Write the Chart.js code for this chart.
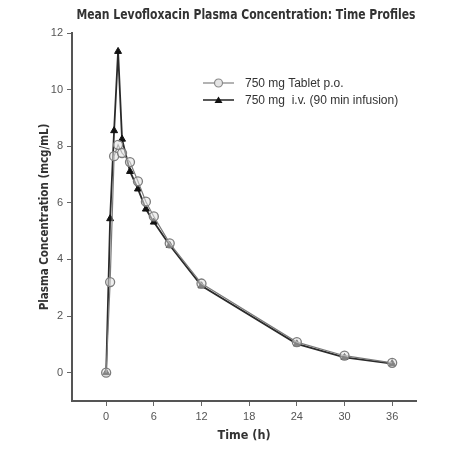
<!DOCTYPE html>
<html>
<head>
<meta charset="utf-8">
<script src="https://cdn.jsdelivr.net/npm/chart.js@4/dist/chart.umd.min.js"></script>
<style>
  html, body { margin: 0; padding: 0; background: #fff; }
  #wrap { position: relative; width: 472px; height: 472px; }
  #title { position: absolute; left: 46px; width: 400px; top: 6px; text-align: center;
           font: bold 14px 'DejaVu Sans Condensed', 'Liberation Sans Narrow', Arial, sans-serif; color: #333;
           transform: scaleX(0.86); transform-origin: 200px 0; }
  #legend { position: absolute; left: 203px; top: 74px; font: 12px 'Liberation Sans', Arial, sans-serif; color: #333; }
  #legend div { height: 17px; display: flex; align-items: center; }
  #legend svg { margin-right: 11px; }
</style>
</head>
<body>
<div id="wrap">
  <canvas id="chart-levo" width="472" height="472"></canvas>
  <div id="title">Mean Levofloxacin Plasma Concentration: Time Profiles</div>
  <div id="legend">
    <div><svg width="31" height="12"><line x1="0" y1="6" x2="31" y2="6" stroke="#9a9a9a" stroke-width="1.5"/><circle cx="15.5" cy="6" r="4" fill="#e4e4e4" stroke="#8a8a8a" stroke-width="1.2"/></svg>750 mg Tablet p.o.</div>
    <div><svg width="31" height="12"><line x1="0" y1="6" x2="31" y2="6" stroke="#222" stroke-width="1.5"/><polygon points="15.5,2.5 19.5,9 11.5,9" fill="#111"/></svg>750 mg&nbsp; i.v. (90 min infusion)</div>
  </div>
</div>
<script>
const timesTablet = [0, 0.5, 1, 1.5, 2, 3, 4, 5, 6, 8, 12, 24, 30, 36];
const concTablet = [0, 3.2, 7.65, 8.05, 7.76, 7.44, 6.76, 6.04, 5.52, 4.57, 3.15, 1.08, 0.6, 0.35];
const timesIV = [0, 0.5, 1, 1.5, 2, 3, 4, 5, 6, 8, 12, 24, 30, 36];
const concIV = [0, 5.44, 8.55, 11.35, 8.25, 7.11, 6.49, 5.78, 5.32, 4.5, 3.07, 1.02, 0.54, 0.32];
const xTicks = [0, 6, 12, 18, 24, 30, 36];
const yTicks = [0, 2, 4, 6, 8, 10, 12];

const AXIS_FONT = "'Liberation Sans', Arial, sans-serif";
const NARROW_FONT = "'DejaVu Sans Condensed', 'Liberation Sans Narrow', Arial, sans-serif";

function toPoints(xs, ys) {
  return xs.map((x, i) => ({ x, y: ys[i] }));
}

new Chart(document.getElementById('chart-levo').getContext('2d'), {
  type: 'line',
  data: {
    datasets: [
      {
        label: '750 mg i.v. (90 min infusion)', data: toPoints(timesIV, concIV),
        borderColor: '#2a2a2a', borderWidth: 1.8,
        pointStyle: 'triangle', pointRadius: 4, pointBackgroundColor: '#111',
        pointBorderColor: '#111', pointBorderWidth: 1, tension: 0, order: 2
      },
      {
        label: '750 mg Tablet p.o.', data: toPoints(timesTablet, concTablet),
        borderColor: '#7a7a7a', borderWidth: 1.2,
        pointStyle: 'circle', pointRadius: 4.5, pointBackgroundColor: 'rgba(225,225,225,0.55)',
        pointBorderColor: '#7c7c7c', pointBorderWidth: 1.3, tension: 0, order: 1
      }
    ]
  },
  options: {
    responsive: false,
    animation: false,
    layout: { padding: { left: 0, right: 56, top: 33, bottom: 0 } },
    plugins: {
      legend: { display: false },
      tooltip: { enabled: false },
      title: { display: false }
    },
    scales: {
      x: {
        type: 'linear', min: -4.3, max: 39,
        afterBuildTicks: s => { s.ticks = xTicks.map(v => ({ value: v })); },
        afterFit: s => { s.height = 71; },
        ticks: { color: '#555', font: { family: AXIS_FONT, size: 11 }, padding: 4 },
        grid: { drawOnChartArea: false, drawTicks: true, tickLength: 5, color: '#666' },
        border: { display: true, color: '#555', width: 2 },
        title: {
          display: true, text: 'Time (h)', color: '#333',
          font: { family: NARROW_FONT, size: 12.5, weight: 'bold' },
          padding: { top: 0, bottom: 29 }
        }
      },
      y: {
        type: 'linear', min: -1, max: 12,
        afterBuildTicks: s => { s.ticks = yTicks.map(v => ({ value: v })); },
        afterFit: s => { s.width = 72; },
        ticks: { color: '#555', font: { family: AXIS_FONT, size: 11 }, padding: 4 },
        grid: { drawOnChartArea: false, drawTicks: true, tickLength: 5, color: '#666' },
        border: { display: true, color: '#555', width: 2 },
        title: {
          display: true, text: 'Plasma Concentration (mcg/mL)', color: '#333',
          font: { family: NARROW_FONT, size: 11.5, weight: 'bold' },
          padding: { top: 38, bottom: 0 }
        }
      }
    }
  }
});
</script>
</body>
</html>
